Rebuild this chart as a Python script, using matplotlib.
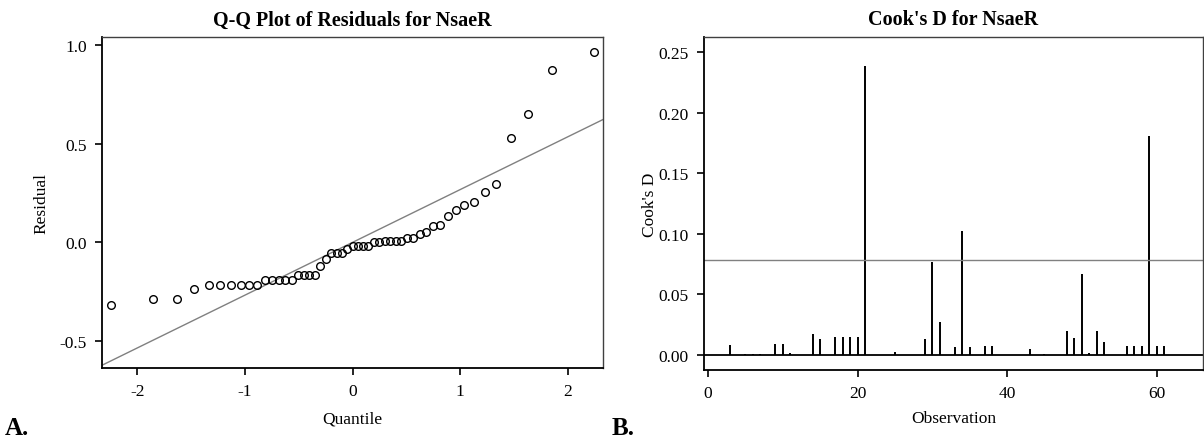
import matplotlib
matplotlib.use("Agg")
import matplotlib.pyplot as plt
import numpy as np
from statistics import NormalDist

plt.rcParams['font.family'] = ['Liberation Serif', 'DejaVu Serif']
plt.rcParams['axes.unicode_minus'] = False

# sorted residuals
residuals = [-0.318, -0.286, -0.286, -0.238,
             -0.215, -0.215, -0.215, -0.215, -0.215, -0.215,
             -0.191, -0.191, -0.191, -0.191, -0.191,
             -0.166, -0.166, -0.166, -0.166,
             -0.118, -0.086, -0.054, -0.054, -0.054, -0.031,
             -0.020, -0.020, -0.020, -0.020,
             0.003, 0.003, 0.005, 0.005, 0.008, 0.008,
             0.023, 0.023, 0.041, 0.055, 0.083, 0.090,
             0.132, 0.163, 0.190, 0.207, 0.256, 0.294,
             0.527, 0.650, 0.871, 0.962]
qq_slope = 0.267

# Cook's D per observation (only non-empty ones)
obs = [3, 5, 6, 7, 9, 10, 11, 14, 15, 17, 18, 19, 20, 21, 25, 29, 30, 31,
       33, 34, 35, 37, 38, 43, 45, 48, 49, 50, 51, 52, 53, 56, 57, 58, 59,
       60, 61]
cooks_d = [0.0080, 0.0008, 0.0008, 0.0008, 0.0091, 0.0091, 0.0010, 0.0167,
           0.0126, 0.0148, 0.0148, 0.0148, 0.0148, 0.2384, 0.0025, 0.0128,
           0.0769, 0.0268, 0.0066, 0.1020, 0.0066, 0.0068, 0.0068, 0.0043,
           0.0008, 0.0198, 0.0136, 0.0667, 0.0015, 0.0198, 0.0101, 0.0071,
           0.0071, 0.0071, 0.1808, 0.0071, 0.0071]
n_obs = len(residuals)
cutoff = 4 / n_obs

W, H = 1204, 439
fig = plt.figure(figsize=(W / 100, H / 100), dpi=100)

# ---- A: Q-Q plot
ax1 = fig.add_axes([102 / W, 1 - 369 / H, 501 / W, 331 / H])
nd = NormalDist()
quant = [nd.inv_cdf((i + 1 - 0.375) / (n_obs + 0.25)) for i in range(n_obs)]
xl = np.array([-2.33, 2.33])
ax1.plot(xl, qq_slope * xl, color='#808080', lw=1)
ax1.plot(quant, residuals, 'o', mfc='none', mec='black', ms=5.5, mew=1)
ax1.set_xlim(-2.33, 2.33)
ax1.set_ylim(-0.636, 1.04)
ax1.set_xticks([-2, -1, 0, 1, 2])
ax1.set_yticks([-0.5, 0.0, 0.5, 1.0])
ax1.set_yticklabels(['-0.5', '0.0', '0.5', '1.0'])
ax1.set_xticklabels(['-2', '-1', '0', '1', '2'])
ax1.set_xlabel('Quantile', fontsize=12.5)
ax1.set_ylabel('Residual', fontsize=12.5)
ax1.xaxis.set_label_coords(0.5, -0.127)
ax1.yaxis.set_label_coords(-0.104, 0.5)
ax1.set_title('Q-Q Plot of Residuals for NsaeR', fontsize=14.5,
              fontweight='bold', pad=9)

# ---- B: Cook's D
ax2 = fig.add_axes([704 / W, 1 - 371 / H, 499 / W, 333 / H])
ax2.vlines(obs, 0, cooks_d, color='black', lw=1.4)
ax2.axhline(0, color='black', lw=1.3)
ax2.axhline(cutoff, color='#808080', lw=1)
ax2.set_xlim(-0.53, 66.2)
ax2.set_ylim(-0.0127, 0.2627)
ax2.set_xticks([0, 20, 40, 60])
ax2.set_yticks([0, 0.05, 0.10, 0.15, 0.20, 0.25])
ax2.set_yticklabels(['0.00', '0.05', '0.10', '0.15', '0.20', '0.25'])
ax2.set_xlabel('Observation', fontsize=12.5)
ax2.set_ylabel("Cook's D", fontsize=12.5)
ax2.xaxis.set_label_coords(0.5, -0.12)
ax2.yaxis.set_label_coords(-0.092, 0.5)
ax2.set_title("Cook's D for NsaeR", fontsize=14.5, fontweight='bold', pad=9)

for ax in (ax1, ax2):
    ax.tick_params(direction='out', length=5, width=1.2, labelsize=12.5,
                   colors='black', pad=6)
    ax.spines['left'].set_linewidth(1.3)
    ax.spines['bottom'].set_linewidth(1.3)
    ax.spines['top'].set_linewidth(1)
    ax.spines['right'].set_linewidth(1)
    ax.spines['top'].set_color('#404040')
    ax.spines['right'].set_color('#404040')

fig.text(5 / W, 1 - 435 / H, 'A.', fontsize=18, fontweight='bold',
         va='baseline', ha='left')
fig.text(612 / W, 1 - 435 / H, 'B.', fontsize=18, fontweight='bold',
         va='baseline', ha='left')

fig.savefig('out.png', dpi=100)
